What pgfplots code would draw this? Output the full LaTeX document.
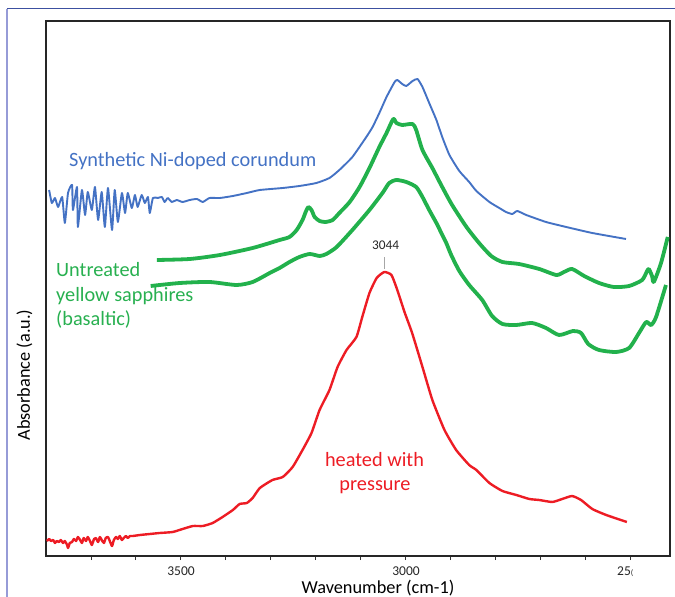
\documentclass[border=0pt]{standalone}
\usepackage{pgfplots}
\pgfplotsset{compat=1.18}
\usepackage{fontspec}
\setmainfont{Carlito}
\definecolor{cblue}{RGB}{68,114,196}
\definecolor{cgreen}{RGB}{34,177,76}
\definecolor{cgreentext}{RGB}{40,176,80}
\definecolor{cred}{RGB}{237,28,36}
\definecolor{frameL}{RGB}{150,155,215}
\definecolor{frameT}{RGB}{60,80,160}
\begin{document}
\begin{tikzpicture}
\begin{axis}[
  scale only axis, width=624bp, height=535bp,
  x dir=reverse, xmin=2411, xmax=3800, ymin=0, ymax=535,
  axis line style={line width=1.3bp, black!85},
  xtick={2500,3000,3500},
  minor xtick={2600,2700,2800,2900,3100,3200,3300,3400,3600,3700},
  xticklabels={}, ytick=\empty,
  tick align=outside, major tick length=4bp, minor tick length=4bp,
  every tick/.style={black!80, line width=0.8bp},
  xtick pos=left,
  clip=false,
]
\coordinate (O) at (rel axis cs:0,0);
% Synthetic Ni-doped corundum
\addplot[cblue, line width=1.9bp, line join=round, smooth, tension=0.3] table {
3793 366
3787 353
3780 358
3773 349
3764 359
3758 333
3751 363
3742 371
3740 346
3731 369
3729 329
3720 366
3713 341
3707 364
3698 346
3691 369
3684 336
3676 364
3669 329
3662 368
3653 326
3647 366
3640 334
3631 363
3624 343
3618 363
3609 348
3602 361
3596 349
3587 361
3580 353
3573 359
3569 343
3562 358
3551 358
3542 359
3536 354
3529 358
3520 354
3509 356
3496 354
3480 356
3464 357
3451 354
3436 358
3413 358
3384 360
3353 363
3324 366
3273 368
3236 370
3198 373
3169 378
3147 386
3118 399
3087 419
3073 429
3058 443
3042 459
3024 474
3018 476
3007 472
2998 470
2984 475
2973 477
2962 469
2947 453
2931 436
2918 419
2902 401
2880 385
2858 374
2842 365
2813 354
2791 348
2776 344
2762 342
2751 345
2731 341
2687 334
2642 329
2584 323
2509 317
};
% Untreated (upper)
\addplot[cgreen, line width=3.8bp, smooth, tension=0.4, line join=round] table {
3553 296
3480 297
3413 301
3340 308
3280 316
3258 319
3242 326
3229 336
3222 344
3216 349
3209 346
3202 339
3191 335
3178 334
3162 336
3147 343
3124 354
3102 369
3080 388
3058 409
3042 423
3027 437
3020 433
3007 431
2984 432
2976 426
2962 406
2940 388
2918 369
2896 351
2864 329
2836 313
2809 300
2784 294
2747 292
2702 287
2664 281
2647 284
2629 287
2602 280
2569 273
2536 269
2502 270
2473 276
2462 285
2458 287
2451 280
2447 274
2431 293
2416 319
};
% Untreated (lower)
\addplot[cgreen, line width=3.8bp, smooth, tension=0.4, line join=round] table {
3567 270
3502 273
3436 274
3376 271
3340 274
3302 283
3280 288
3258 294
3236 299
3213 302
3191 300
3176 302
3153 309
3118 326
3080 346
3051 363
3036 373
3020 376
2998 374
2976 369
2962 359
2947 346
2931 333
2920 323
2909 313
2898 301
2880 285
2858 271
2829 256
2807 240
2784 232
2753 231
2718 233
2687 228
2658 221
2627 225
2609 223
2593 212
2569 206
2531 204
2502 208
2480 223
2464 234
2453 231
2442 239
2420 271
};
% heated with pressure
\addplot[cred, line width=2.4bp, line join=round, smooth, tension=0.3] table {
3798 15
3793 17
3789 15
3784 16
3780 13
3776 15
3771 14
3767 16
3762 13
3758 15
3753 11
3751 8
3747 13
3742 14
3738 17
3733 15
3729 19
3724 16
3720 13
3716 18
3711 15
3707 19
3702 15
3698 11
3693 17
3689 18
3684 14
3680 19
3676 16
3671 13
3667 18
3662 19
3658 15
3653 10
3649 16
3644 19
3640 17
3636 20
3631 16
3627 18
3622 20
3618 18
3613 20
3607 20
3591 21
3569 22
3547 23
3518 24
3496 27
3473 30
3451 30
3429 33
3407 39
3384 46
3369 52
3353 53
3340 58
3324 68
3296 76
3273 79
3251 89
3229 106
3209 123
3191 146
3169 166
3151 189
3131 206
3109 219
3096 239
3080 263
3064 278
3047 284
3031 281
3018 266
3002 244
2985 223
2962 189
2940 156
2913 126
2887 106
2858 91
2842 86
2813 73
2784 65
2753 61
2724 57
2702 56
2673 54
2651 57
2629 60
2609 56
2584 47
2553 41
2507 34
};
\draw[black!35, line width=0.6bp] (axis cs:3047,287) -- (axis cs:3047,299);
\end{axis}
\begin{scope}[shift={(O)}, xshift=-46bp, yshift=556bp, x=1bp, y=-1bp]
  \draw[frameT, line width=1bp] (7,9) -- (675,9);
  \draw[frameL, line width=2bp] (7,9) -- (7,597);
  \node[anchor=base west, inner sep=0pt, text=cblue, font=\fontsize{20.3bp}{24bp}\selectfont] at (69,167) {Synthetic Ni-doped corundum};
  \node[anchor=base west, inner sep=0pt, text=cgreentext, font=\fontsize{20.3bp}{24bp}\selectfont] at (56,277) {Untreated};
  \node[anchor=base west, inner sep=0pt, text=cgreentext, font=\fontsize{20.3bp}{24bp}\selectfont] at (56,301.5) {yellow sapphires};
  \node[anchor=base west, inner sep=0pt, text=cgreentext, font=\fontsize{20.3bp}{24bp}\selectfont] at (56,326) {(basaltic)};
  \node[anchor=base, inner sep=0pt, text=cred, font=\fontsize{20.3bp}{24bp}\selectfont] at (374.5,467) {heated with};
  \node[anchor=base, inner sep=0pt, text=cred, font=\fontsize{20.3bp}{24bp}\selectfont] at (375,491) {pressure};
  \node[anchor=base, inner sep=0pt, text=black!85, font=\fontsize{13.3bp}{14bp}\selectfont] at (385.5,250) {3044};
  \node[anchor=base, inner sep=0pt, text=black!85, font=\fontsize{13.5bp}{14bp}\selectfont] at (181,576) {3500};
  \node[anchor=base, inner sep=0pt, text=black!85, font=\fontsize{13.5bp}{14bp}\selectfont] at (406,576) {3000};
  \node[anchor=base west, inner sep=0pt, text=black!85, font=\fontsize{13.5bp}{14bp}\selectfont] at (617,576) {25\raisebox{0.1ex}{\fontsize{8bp}{8bp}\selectfont(}};
  \node[anchor=base, inner sep=0pt, text=black, font=\fontsize{18.3bp}{20bp}\selectfont] at (378,593.5) {Wavenumber (cm-1)};
  \node[anchor=base, rotate=90, inner sep=0pt, text=black, font=\fontsize{18.3bp}{20bp}\selectfont] at (30,375) {Absorbance (a.u.)};
\end{scope}
\pgfresetboundingbox
\begin{scope}[shift={(O)}, xshift=-46bp, yshift=556bp, x=1bp, y=-1bp]
  \path (0,0) rectangle (675,597);
\end{scope}
\end{tikzpicture}
\end{document}
